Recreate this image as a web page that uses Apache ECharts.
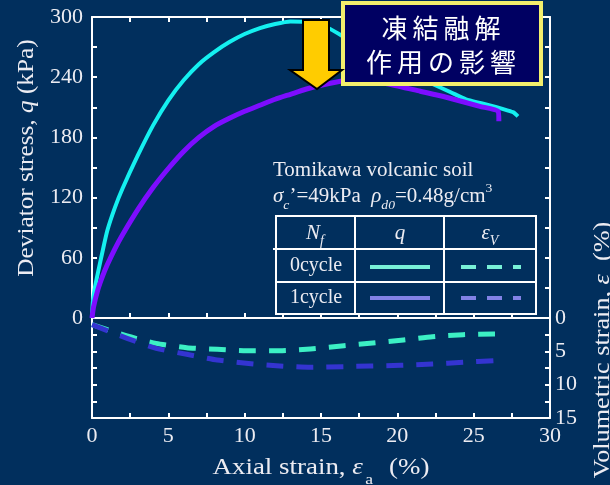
<!DOCTYPE html>
<html>
<head>
<meta charset="utf-8">
<script src="https://cdn.jsdelivr.net/npm/echarts@6/dist/echarts.min.js"></script>
<style>
  html, body { margin: 0; padding: 0; background: #012f5d; }
  #chart { width: 610px; height: 485px; }
</style>
</head>
<body>
<div id="chart"></div>
<script>
// Deviator stress q (kPa) vs axial strain (%) — 0 freeze-thaw cycles
const strainQ0 = [0, 0.05, 0.2, 0.4, 0.7, 1, 1.5, 2, 3, 4, 5, 6, 7, 8, 9, 10, 11, 12, 13, 14, 15, 15.6, 16.4, 18, 20, 22.2, 23.5, 24.5, 25.5, 26.5, 27.2, 27.6, 27.9];
const q0 = [0, 15, 31, 46, 67, 87, 110, 129, 162, 192, 217, 237, 253, 265, 275, 283, 289, 293, 295.5, 295, 291, 288, 281, 266, 249, 234, 225, 218, 214, 210, 207, 205, 201];

// Deviator stress — 1 freeze-thaw cycle
const strainQ1 = [0, 0.1, 0.4, 0.7, 1, 1.5, 2, 3, 4, 5, 6, 7, 8, 9, 10, 11, 12, 13, 14, 15, 16.5, 18, 19.5, 21.5, 23.2, 25.4, 26.6, 26.65];
const q1 = [0, 11, 29, 42, 53, 69, 83, 108, 130, 149, 166, 180, 191, 199, 206, 212, 218, 223, 228, 232, 236.5, 237, 233, 226, 220, 211, 206, 196];

// Volumetric strain (%) vs axial strain
const strainV0 = [0, 2.3, 4.2, 6.2, 8.2, 10.1, 12.3, 14.3, 16.5, 18.2, 20.4, 22.3, 24.3, 26.3, 26.9];
const ev0 = [1.0, 2.7, 3.8, 4.45, 4.7, 4.9, 4.9, 4.65, 4.15, 3.8, 3.3, 2.8, 2.5, 2.4, 2.4];
const strainV1 = [0, 2.3, 4.2, 6.2, 8.2, 10.1, 12.3, 14.3, 16.5, 18.2, 20.2, 22.3, 24.3, 26.3];
const ev1 = [1.0, 3.05, 4.55, 5.45, 6.3, 6.8, 7.2, 7.4, 7.3, 7.2, 7.1, 6.9, 6.65, 6.4];

// Axis tick labels
const strainTicks = [0, 5, 10, 15, 20, 25, 30];
const qTicks = [0, 60, 120, 180, 240, 300];
const evTicks = [0, 5, 10, 15];

const headline = ['凍結融解', '作用の影響'];

const SERIF = 'Liberation Serif';
const FG = '#ececf2';

const zip = (xs, ys) => xs.map((x, i) => [x, ys[i]]);
const onlyTicks = list => v => (list.indexOf(Math.round(v * 100) / 100) >= 0 ? String(v) : '');

function frameAxis(extra) {
  return Object.assign({
    type: 'value',
    axisLine: { show: true, onZero: false, lineStyle: { color: '#ffffff', width: 2 } },
    axisTick: { show: true, inside: true, length: 5, lineStyle: { color: '#ffffff', width: 2 } },
    splitLine: { show: false },
    axisLabel: { show: false }
  }, extra);
}
const labelStyle = { show: true, color: FG, fontFamily: SERIF, fontSize: 22 };

const chart = echarts.init(document.getElementById('chart'), null, { renderer: 'canvas' });

const centered = { align: 'center', verticalAlign: 'middle', textAlign: 'center', textVerticalAlign: 'middle' };
const italic = size => ({ fontStyle: 'italic', fontSize: size, fontFamily: SERIF, fill: FG, color: FG });

const elements = [];
// axis titles
elements.push({
  type: 'text', x: 27, y: 158, rotation: Math.PI / 2, scaleX: 1.1, z: 50,
  style: Object.assign({
    text: 'Deviator stress, {i|q} (kPa)', fill: FG, font: '23px "' + SERIF + '"',
    rich: { i: italic(23) }
  }, centered)
});
elements.push({
  type: 'text', x: 321, y: 468, scaleX: 1.17, z: 50,
  style: Object.assign({
    text: 'Axial strain, {i|ε}{sub|a} (%)', fill: FG, font: '23px "' + SERIF + '"',
    rich: {
      i: Object.assign(italic(23), { lineHeight: 40 }),
      sub: { fontSize: 15, fontFamily: SERIF, fill: FG, color: FG, verticalAlign: 'bottom', lineHeight: 40, padding: [0, 8, 0, 2] }
    }
  }, centered)
});
elements.push({
  type: 'text', x: 603, y: 350, rotation: Math.PI / 2, scaleX: 1.14, z: 50,
  style: Object.assign({
    text: 'Volumetric strain, {i|ε}  (%)', fill: FG, font: '23px "' + SERIF + '"',
    rich: { i: italic(23) }
  }, centered)
});

// specimen description
const leftMid = { align: 'left', verticalAlign: 'middle', textAlign: 'left', textVerticalAlign: 'middle' };
elements.push({
  type: 'text', x: 273, y: 171, scaleX: 1.05, z: 50,
  style: Object.assign({ text: 'Tomikawa volcanic soil', fill: FG, font: '20px "' + SERIF + '"' }, leftMid)
});
elements.push({
  type: 'text', x: 273, y: 197, scaleX: 1.05, z: 50,
  style: Object.assign({
    text: '{i|σ}{sub|c}’=49kPa  {i|ρ}{sub|d0}=0.48g/cm{sup|3}', fill: FG, font: '20px "' + SERIF + '"',
    rich: {
      i: Object.assign(italic(20), { lineHeight: 30 }),
      sub: Object.assign(italic(13), { verticalAlign: 'bottom', lineHeight: 30 }),
      sup: { fontSize: 13, fontFamily: SERIF, fill: FG, color: FG, verticalAlign: 'top', lineHeight: 30 }
    }
  }, leftMid)
});

// legend table
const tb = { x0: 276, x1: 536, y0: 216, y1: 314, rows: [249, 282], cols: [355, 444] };
elements.push({ type: 'rect', z: 50, shape: { x: tb.x0, y: tb.y0, width: tb.x1 - tb.x0, height: tb.y1 - tb.y0 }, style: { fill: 'none', stroke: '#ffffff', lineWidth: 2 } });
tb.rows.forEach((y, k) => elements.push({ type: 'line', z: 50, shape: { x1: k === 0 ? 273 : tb.x0, y1: y, x2: tb.x1, y2: y }, style: { stroke: '#ffffff', lineWidth: 2 } }));
tb.cols.forEach(x => elements.push({ type: 'line', z: 50, shape: { x1: x, y1: tb.y0, x2: x, y2: tb.y1 }, style: { stroke: '#ffffff', lineWidth: 2 } }));
const cellText = (x, y, text, rich) => ({
  type: 'text', x, y, z: 51,
  style: Object.assign({ text, fill: FG, font: '20px "' + SERIF + '"', rich }, centered)
});
const hdrRich = {
  i: Object.assign(italic(21), { lineHeight: 30 }),
  sub: Object.assign(italic(14), { verticalAlign: 'bottom', lineHeight: 30 })
};
elements.push(cellText(315, 233, '{i|N}{sub|f}', hdrRich));
elements.push(cellText(400, 233, '{i|q}', hdrRich));
elements.push(cellText(490, 233, '{i|ε}{sub|V}', hdrRich));
elements.push(cellText(316, 266, '0cycle'));
elements.push(cellText(316, 298, '1cycle'));
const legendRows = [{ y: 267, color: '#78f0d6' }, { y: 298, color: '#8282e6' }];
legendRows.forEach(r => {
  elements.push({ type: 'line', z: 51, shape: { x1: 370, y1: r.y, x2: 430, y2: r.y }, style: { stroke: r.color, lineWidth: 4 } });
  elements.push({ type: 'line', z: 51, shape: { x1: 461, y1: r.y, x2: 521, y2: r.y }, style: { stroke: r.color, lineWidth: 4, lineDash: [15, 11] } });
});

// headline box with arrow
elements.push({ type: 'rect', z: 60, shape: { x: 343, y: 3, width: 198, height: 81 }, style: { fill: '#000062', stroke: '#f3ef6c', lineWidth: 4 } });
headline.forEach((line, li) => {
  const chars = Array.from(line);
  const pitch = 31;
  const cx = 441, cy = li === 0 ? 28 : 62;
  chars.forEach((ch, i) => {
    elements.push({
      type: 'text', z: 61, x: cx + (i - (chars.length - 1) / 2) * pitch, y: cy,
      style: Object.assign({ text: ch, fill: '#ffffff', font: '26px "Noto Sans CJK JP"' }, centered)
    });
  });
});
elements.push({
  type: 'polygon', z: 60,
  shape: { points: [[303, 20], [329, 20], [329, 70], [342, 70], [317, 89], [290, 70], [303, 70]] },
  style: { fill: '#ffcc00', stroke: '#000000', lineWidth: 2, lineJoin: 'miter' }
});

const curve = (name, xi, yi, xs, ys, color, width, dash) => ({
  name, type: 'line', xAxisIndex: xi, yAxisIndex: yi, data: zip(xs, ys),
  showSymbol: false, smooth: 0.2, z: 3,
  lineStyle: { color, width, type: dash || 'solid', join: 'round', cap: 'butt' }, itemStyle: { color }
});

const option = {
  animation: false,
  backgroundColor: '#012f5d',
  textStyle: { fontFamily: SERIF },
  grid: [
    { left: 92, top: 17, width: 458, height: 301 },
    { left: 92, top: 318, width: 458, height: 100 }
  ],
  xAxis: [
    frameAxis({ gridIndex: 0, position: 'bottom', min: 0, max: 30, interval: 2.5 }),
    frameAxis({ gridIndex: 0, position: 'top', min: 0, max: 30, interval: 2.5 }),
    frameAxis({ gridIndex: 1, position: 'bottom', min: 0, max: 30, interval: 2.5,
      axisLabel: Object.assign({}, labelStyle, { margin: 7, formatter: onlyTicks(strainTicks) }) })
  ],
  yAxis: [
    frameAxis({ gridIndex: 0, position: 'left', min: 0, max: 300, interval: 30,
      axisLabel: Object.assign({}, labelStyle, { margin: 9, formatter: onlyTicks(qTicks) }) }),
    frameAxis({ gridIndex: 0, position: 'right', min: 0, max: 300, interval: 30 }),
    frameAxis({ gridIndex: 1, position: 'left', min: 0, max: 15, interval: 2.5, inverse: true }),
    frameAxis({ gridIndex: 1, position: 'right', min: 0, max: 15, interval: 2.5, inverse: true,
      axisLabel: Object.assign({}, labelStyle, { margin: 5, formatter: onlyTicks(evTicks) }) })
  ],
  series: [
    curve('q 0cycle', 0, 0, strainQ0, q0, '#14f0f0', 4),
    curve('q 1cycle', 0, 0, strainQ1, q1, '#7d0dff', 5),
    curve('εV 0cycle', 2, 3, strainV0, ev0, '#3cf0c4', 5, [17, 13]),
    curve('εV 1cycle', 2, 3, strainV1, ev1, '#3434d0', 5, [17, 13])
  ],
  graphic: { elements }
};
chart.setOption(option);
</script>
</body>
</html>
